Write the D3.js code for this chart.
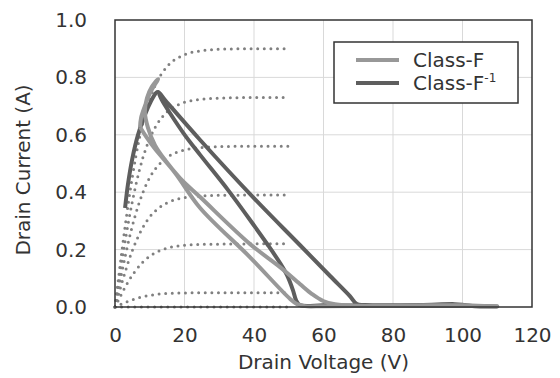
<!DOCTYPE html>
<html><head><meta charset="utf-8">
<script src="https://cdn.jsdelivr.net/npm/d3@7"></script>
<style>body{margin:0;background:#fff}svg{display:block}text{font-family:"DejaVu Sans",Verdana,sans-serif;fill:#333}</style>
</head><body><svg id="c" width="560" height="378"></svg>
<script>
// ---- data ----
const xTicks = [0, 20, 40, 60, 80, 100, 120];
const yTicks = [0.0, 0.2, 0.4, 0.6, 0.8, 1.0];
const ivV = [0, 1, 2, 3, 4, 5, 6, 8, 10, 12, 15, 20, 25, 30, 40, 50];
const iv090 = [0, 0.100, 0.197, 0.289, 0.376, 0.454, 0.525, 0.640, 0.724, 0.783, 0.838, 0.879, 0.893, 0.898, 0.900, 0.900];
const iv073 = [0, 0.081, 0.160, 0.235, 0.305, 0.368, 0.425, 0.519, 0.587, 0.635, 0.680, 0.713, 0.724, 0.728, 0.730, 0.730];
const iv056 = [0, 0.062, 0.122, 0.180, 0.234, 0.283, 0.326, 0.398, 0.451, 0.487, 0.521, 0.547, 0.556, 0.559, 0.560, 0.560];
const iv039 = [0, 0.043, 0.085, 0.125, 0.163, 0.197, 0.227, 0.277, 0.314, 0.339, 0.363, 0.381, 0.387, 0.389, 0.390, 0.390];
const iv022 = [0, 0.024, 0.048, 0.071, 0.092, 0.111, 0.128, 0.156, 0.177, 0.191, 0.205, 0.215, 0.218, 0.219, 0.220, 0.220];
const iv005 = [0, 0.006, 0.011, 0.016, 0.021, 0.025, 0.029, 0.036, 0.040, 0.044, 0.047, 0.049, 0.050, 0.050, 0.050, 0.050];
const iv000 = [0, 0, 0, 0, 0, 0, 0, 0, 0, 0, 0, 0, 0, 0, 0, 0];

// Class-F load line (closed trajectory)
const classF_V = [7.2, 9.2, 11.5, 17.3, 24.5, 38.8, 50.4, 52.4, 54.7, 60, 75, 90, 100, 110, 100, 85, 70, 63.3, 59.9, 56.7, 53.2, 47.5, 38.8, 24.5, 18.7, 14.4, 11.5, 9.5, 8.6, 9.2, 10.6, 12.4, 10.1, 8.6, 7.5, 7.2];
const classF_I = [0.627, 0.589, 0.551, 0.467, 0.345, 0.174, 0.028, 0.010, 0.003, 0.003, 0.004, 0.006, 0.006, 0.002, 0.004, 0.004, 0.004, 0.010, 0.021, 0.045, 0.080, 0.139, 0.220, 0.383, 0.449, 0.512, 0.564, 0.624, 0.679, 0.728, 0.767, 0.794, 0.746, 0.700, 0.659, 0.627];

// Class-F^-1 load line
const classFi_V = [2.9, 3.7, 4.9, 6.6, 8.6, 10.4, 11.8, 12.4, 14.4, 24.5, 39.7, 53.2, 61.9, 67.6, 69.6, 72, 87.8, 97.8, 100.7, 103.6, 110, 100, 85, 70, 60, 53.2, 52.1, 51.2, 49.5, 47.5, 44.0, 40.3, 32.5, 24.5, 20.1, 15.8, 13.5, 12.7];
const classFi_I = [0.345, 0.425, 0.512, 0.599, 0.669, 0.718, 0.746, 0.749, 0.721, 0.582, 0.383, 0.216, 0.108, 0.038, 0.010, 0.007, 0.007, 0.010, 0.007, 0.003, 0.002, 0.004, 0.004, 0.005, 0.006, 0.007, 0.024, 0.059, 0.111, 0.153, 0.216, 0.279, 0.408, 0.530, 0.599, 0.676, 0.721, 0.742];

const seriesNames = ["Class-F", "Class-F"];
// ---- chart ----
const svg = d3.select("#c");
const L = 115, R = 532, T = 20, B = 307;
const x = d3.scaleLinear().domain([0, 120]).range([L, R]);
const y = d3.scaleLinear().domain([0, 1]).range([B, T]);
const cLight = "#989898", cDark = "#5e5e5e", cDot = "#808080";

// grid
svg.append("g").selectAll("line.gx").data(xTicks.slice(1, -1)).join("line")
  .attr("x1", d => x(d)).attr("x2", d => x(d)).attr("y1", T).attr("y2", B)
  .attr("stroke", "#d9d9d9").attr("stroke-width", 1);
svg.append("g").selectAll("line.gy").data(yTicks.slice(1, -1)).join("line")
  .attr("x1", L).attr("x2", R).attr("y1", d => y(d)).attr("y2", d => y(d))
  .attr("stroke", "#d9d9d9").attr("stroke-width", 1);

// axes (labels only)
const xAxis = svg.append("g").attr("transform", `translate(0,${B})`)
  .call(d3.axisBottom(x).tickValues(xTicks).tickSize(0).tickPadding(21).tickFormat(d3.format("d")));
const yAxis = svg.append("g").attr("transform", `translate(${L},0)`)
  .call(d3.axisLeft(y).tickValues(yTicks).tickSize(0).tickPadding(28).tickFormat(d3.format(".1f")));
[xAxis, yAxis].forEach(g => {
  g.select(".domain").remove();
  g.selectAll("text").attr("font-size", 20).attr("fill", "#333").attr("font-family", "DejaVu Sans, Verdana, sans-serif");
});

// IV curves (dotted)
const ivSets = [iv000, iv005, iv022, iv039, iv056, iv073, iv090];
const ivLine = d3.line().x((d, i) => x(ivV[i])).y(d => y(d)).curve(d3.curveMonotoneX);
svg.append("g").selectAll("path").data(ivSets).join("path")
  .attr("d", d => ivLine(d)).attr("fill", "none").attr("stroke", cDot)
  .attr("stroke-width", 3).attr("stroke-linecap", "round").attr("stroke-dasharray", "0 6.6");

// load lines
const loop = (V, I) => d3.line().x((d, i) => x(V[i])).y(d => y(d)).curve(d3.curveCatmullRom.alpha(0.5))(I);
svg.append("path").attr("d", loop(classFi_V, classFi_I)).attr("fill", "none")
  .attr("stroke", cDark).attr("stroke-width", 4).attr("stroke-linejoin", "round");
svg.append("path").attr("d", loop(classF_V, classF_I)).attr("fill", "none")
  .attr("stroke", cLight).attr("stroke-width", 4).attr("stroke-linejoin", "round");

// frame
svg.append("rect").attr("x", L).attr("y", T).attr("width", R - L).attr("height", B - T)
  .attr("fill", "none").attr("stroke", "#333").attr("stroke-width", 1.5);

// axis titles
svg.append("text").attr("x", (L + R) / 2).attr("y", 369).attr("text-anchor", "middle")
  .attr("font-size", 20).text("Drain Voltage (V)");
svg.append("text").attr("transform", "translate(30,170) rotate(-90)").attr("text-anchor", "middle")
  .attr("font-size", 20).text("Drain Current (A)");

// legend
const lg = svg.append("g");
lg.append("rect").attr("x", 334).attr("y", 42).attr("width", 184).attr("height", 61)
  .attr("fill", "#fff").attr("stroke", "#333").attr("stroke-width", 1.5);
const legItems = [{c: cLight, sup: null}, {c: cDark, sup: "-1"}];
legItems.forEach((it, i) => {
  const yy = 60 + i * 23;
  lg.append("line").attr("x1", 356).attr("x2", 399).attr("y1", yy).attr("y2", yy)
    .attr("stroke", it.c).attr("stroke-width", 4);
  const t = lg.append("text").attr("x", 413).attr("y", yy + 7).attr("font-size", 20).text(seriesNames[i]);
  if (it.sup) t.append("tspan").attr("font-size", 12).attr("dy", -8).text(it.sup);
});
</script></body></html>
